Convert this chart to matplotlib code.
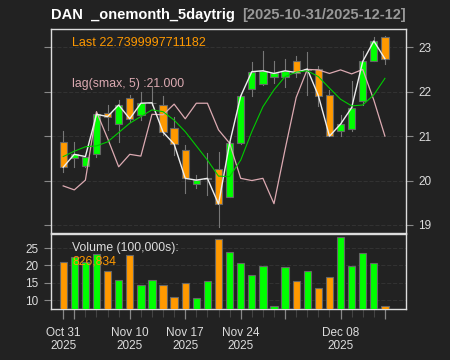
import numpy as np
import matplotlib.pyplot as plt
from matplotlib.patches import Rectangle

plt.rcParams['font.family'] = ['Liberation Sans', 'DejaVu Sans']

# OHLC (30 trading days, 2025-10-31 .. 2025-12-12)
opens  = [20.86, 20.51, 20.33, 20.60, 21.51, 21.27, 21.86, 21.47, 21.74, 21.70,
          21.18, 20.69, 19.93, 20.04, 20.25, 19.64, 20.85, 22.05, 22.17, 22.34,
          22.32, 22.68, 22.49, 22.50, 21.93, 21.12, 21.16, 21.78, 22.70, 23.22]
highs  = [21.11, 20.87, 20.56, 21.55, 21.70, 21.81, 21.92, 22.00, 22.11, 21.90,
          21.44, 20.80, 20.12, 20.62, 20.65, 20.87, 21.92, 22.66, 22.92, 22.69,
          22.73, 22.80, 22.90, 22.58, 22.04, 21.48, 22.23, 22.92, 23.24, 23.25]
lows   = [20.20, 20.31, 20.30, 20.52, 21.14, 20.87, 21.32, 21.36, 21.70, 21.02,
          20.57, 19.71, 19.83, 19.67, 18.96, 19.62, 20.83, 21.91, 22.15, 22.20,
          22.11, 22.34, 21.93, 21.68, 21.00, 21.00, 21.11, 21.70, 22.68, 22.62]
closes = [20.30, 20.59, 20.54, 21.49, 21.44, 21.70, 21.39, 21.74, 21.75, 21.09,
          20.82, 20.05, 20.01, 20.05, 19.47, 20.84, 21.90, 22.45, 22.47, 22.41,
          22.47, 22.43, 22.51, 21.91, 21.00, 21.27, 21.64, 22.68, 23.14, 22.74]
volume = [21.1, 22.4, 21.0, 23.3, 18.5, 15.7, 23.1, 14.4, 15.9, 14.4,
          10.9, 14.9, 10.6, 15.6, 27.7, 23.8, 20.7, 17.2, 19.9, 8.2,
          19.5, 15.4, 18.5, 13.5, 16.6, 28.2, 19.7, 23.7, 20.7, 8.27]
sma_line = [20.54, 20.66, 20.76, 20.78, 20.87, 21.08, 21.29, 21.44, 21.59, 21.55,
            21.36, 21.10, 20.78, 20.46, 20.10, 20.09, 20.46, 21.10, 21.66, 22.04,
            22.34, 22.44, 22.47, 22.34, 22.08, 21.83, 21.68, 21.70, 21.93, 22.30]
lag_smax = [19.88, 19.79, 20.01, 21.55, 20.95, 20.31, 20.59, 20.55, 21.49, 21.48,
            21.72, 21.39, 21.74, 21.74, 21.14, 20.84, 20.05, 20.00, 20.05, 19.48,
            20.70, 21.87, 22.50, 22.49, 22.41, 22.49, 22.40, 22.50, 21.81, 21.00]
xlabels = {0: 'Oct 31\n2025', 6: 'Nov 10\n2025', 11: 'Nov 17\n2025',
           16: 'Nov 24\n2025', 25: 'Dec 08\n2025'}
week_starts = [0, 1, 6, 11, 16, 20, 25, 29]

bg = '#222222'
up_col = '#00ff00'
dn_col = '#ff9900'
edge = '#666666'
frame = '#dddddd'
grid_col = '#323232'

fig = plt.figure(figsize=(4.5, 3.6), dpi=100, facecolor=bg)
ax = fig.add_axes([51/450, 1-233/360, 355/450, 204/360], facecolor=bg)
axv = fig.add_axes([51/450, 1-309/360, 355/450, 75/360], facecolor=bg)

n = len(closes)
x = np.arange(n)
w = 0.66

for i in range(n):
    o, h, l, c = opens[i], highs[i], lows[i], closes[i]
    col = up_col if c >= o else dn_col
    ax.plot([i, i], [l, h], color='#777777', lw=0.8, zorder=2)
    ax.add_patch(Rectangle((i - w/2, min(o, c)), w, max(abs(c - o), 0.01),
                           facecolor=col, edgecolor=edge, lw=0.8, zorder=3))
    axv.add_patch(Rectangle((i - w/2, 0), w, volume[i],
                            facecolor=col, edgecolor=edge, lw=0.8, zorder=3))

ax.plot(x, lag_smax, color='#dcaab2', lw=0.9, zorder=4)
ax.plot(x, closes, color='#eeeeee', lw=1.0, zorder=5)
ax.plot(x, sma_line, color='#00cc00', lw=0.8, zorder=6)

for a in (ax, axv):
    a.set_xlim(-1.1, 30.9)
    for s in a.spines.values():
        s.set_color(frame)
        s.set_linewidth(1.0)

ax.set_ylim(18.82, 23.41)
ax.set_yticks([19, 20, 21, 22, 23])
for v in [19, 20, 21, 22, 23]:
    ax.axhline(v, color=grid_col, lw=0.8, ls='--', zorder=1)
ax.tick_params(axis='y', which='both', left=True, right=True, labelleft=False,
               labelright=True, colors='#888888', labelcolor='#dddddd',
               labelsize=8.5, length=5, width=0.8, pad=4)
ax.set_xticks([])

axv.set_ylim(7.4, 29.1)
axv.set_yticks([10, 15, 20, 25])
for v in [10, 15, 20, 25]:
    axv.axhline(v, color=grid_col, lw=0.8, ls='--', zorder=1)
axv.tick_params(axis='y', left=True, labelleft=True, colors='#888888',
                labelcolor='#dddddd', labelsize=8.5, length=5, width=0.8, pad=4)
axv.set_xticks(week_starts)
axv.set_xticklabels([xlabels.get(i, '') for i in week_starts])
axv.set_xticks(x, minor=True)
axv.tick_params(axis='x', which='major', colors='#888888', labelcolor='#dddddd',
                labelsize=8.5, length=7, width=0.9, pad=6)
axv.tick_params(axis='x', which='minor', colors='#444444', length=6, width=0.8)
for t in axv.get_xticklabels():
    t.set_linespacing(1.1)

ax.text(0.06, 0.93, 'Last 22.7399997711182', transform=ax.transAxes,
        color=dn_col, fontsize=9, va='center')
ax.text(0.06, 0.73, 'lag(smax, 5) :21.000', transform=ax.transAxes,
        color='#dcaab2', fontsize=8.8, va='center')
axv.text(0.06, 0.82, 'Volume (100,000s):', transform=axv.transAxes,
         color='#dddddd', fontsize=8.8, va='center')
axv.text(0.06, 0.63, '826,834', transform=axv.transAxes,
         color=dn_col, fontsize=8.8, va='center')

fig.text(51/450, 1-15/360, 'DAN  _onemonth_5daytrig', color='#ffffff',
         fontsize=10.5, fontweight='bold', va='center', ha='left')
fig.text(406/450, 1-15/360, '[2025-10-31/2025-12-12]', color='#999999',
         fontsize=10.5, fontweight='bold', va='center', ha='right')

fig.savefig('out.png', dpi=100, facecolor=bg)
